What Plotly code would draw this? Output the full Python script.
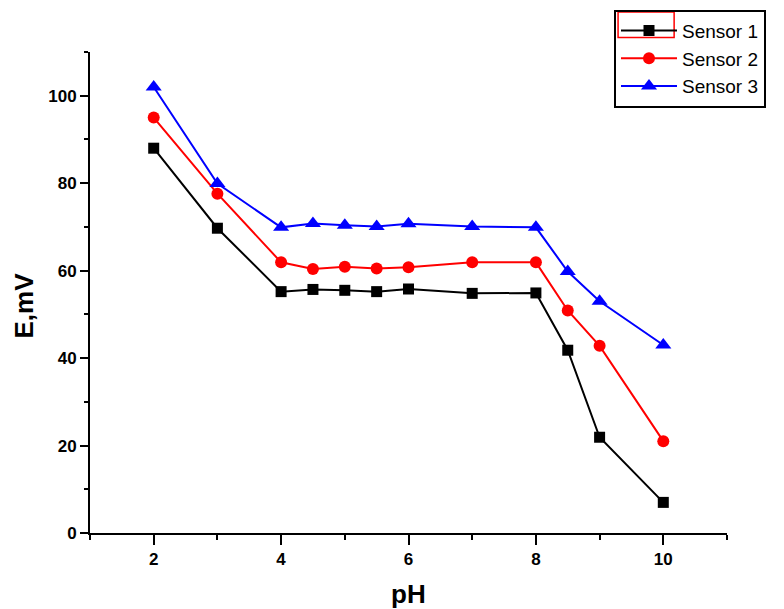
import plotly.graph_objects as go

ph = [2, 3, 4, 4.5, 5, 5.5, 6, 7, 8, 8.5, 9, 10]
sensor1 = [88, 69.7, 55.2, 55.7, 55.5, 55.2, 55.8, 54.8, 54.9, 41.8, 21.9, 7.0]
sensor2 = [95, 77.6, 61.9, 60.4, 60.9, 60.5, 60.8, 61.9, 61.9, 50.9, 42.8, 21.0]
sensor3 = [102, 79.9, 69.9, 70.8, 70.4, 70.1, 70.7, 70.1, 69.9, 59.8, 53.0, 43.0]

names = ["Sensor 1", "Sensor 2", "Sensor 3"]
colors = ["#000000", "#FF0000", "#0000FF"]
symbols = ["square", "circle", "triangle-up"]
sizes = [11, 12, 14]
series = [sensor1, sensor2, sensor3]

x_ticks = [2, 4, 6, 8, 10]
y_ticks = [0, 20, 40, 60, 80, 100]

FONT = "Arial, Liberation Sans, sans-serif"

fig = go.Figure()
for n, c, s, sz, y in zip(names, colors, symbols, sizes, series):
    fig.add_trace(go.Scatter(
        x=ph, y=y, name=n, mode="lines+markers",
        line=dict(color=c, width=2),
        marker=dict(symbol=s, size=sz, color=c),
    ))

axis_common = dict(
    showline=True, linecolor="black", linewidth=2,
    ticks="outside", tickcolor="black", tickwidth=2,
    showgrid=False, zeroline=False, mirror=False, automargin=False,
)

fig.update_xaxes(
    range=[1, 11], tickvals=x_ticks, ticklen=10,
    minor=dict(tickvals=[1, 3, 5, 7, 9, 11], ticks="outside", ticklen=5,
               tickcolor="black", tickwidth=2),
    tickfont=dict(family=FONT, size=17, color="black", weight="bold"),
    **axis_common,
)
fig.update_yaxes(
    range=[0, 110], tickvals=y_ticks, ticklen=8,
    minor=dict(tickvals=[10, 30, 50, 70, 90, 110], ticks="outside", ticklen=4,
               tickcolor="black", tickwidth=2),
    tickfont=dict(family=FONT, size=17, color="black", weight="bold"),
    **axis_common,
)

fig.update_layout(
    width=776, height=601,
    margin=dict(l=82, r=57, t=44, b=76, autoexpand=False),
    paper_bgcolor="white", plot_bgcolor="white",
    showlegend=True,
    legend=dict(
        x=0.8226, y=1.088, xanchor="left", yanchor="top",
        bordercolor="black", borderwidth=2, bgcolor="rgba(0,0,0,0)",
        font=dict(family=FONT, size=19, color="black"),
        itemwidth=56, tracegroupgap=0,
    ),
    shapes=[dict(type="rect", xref="paper", yref="paper",
                 x0=0.829, x1=0.917, y0=1.03, y1=1.083,
                 line=dict(color="#FF0000", width=1.5))],
    annotations=[
        dict(text="pH", xref="paper", yref="paper", x=0.5, y=0,
             xanchor="center", yanchor="middle", yshift=-61, showarrow=False,
             font=dict(family=FONT, size=26, color="black", weight="bold")),
        dict(text="E,mV", xref="paper", yref="paper", x=0, y=0.5,
             xanchor="center", yanchor="middle", xshift=-67, yshift=-13,
             textangle=-90, showarrow=False,
             font=dict(family=FONT, size=26, color="black", weight="bold")),
    ],
)

fig.write_html("out.html")
